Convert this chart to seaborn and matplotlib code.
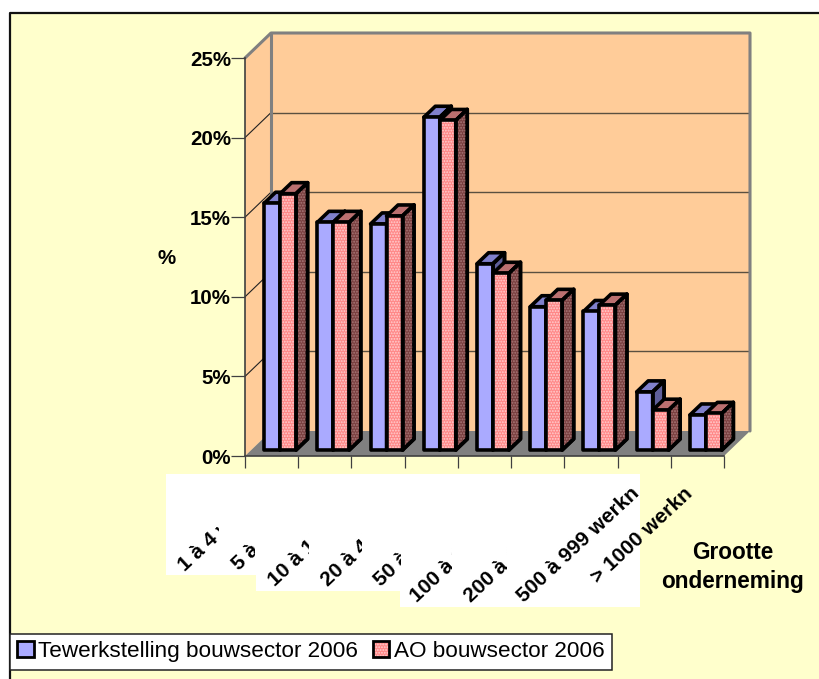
import matplotlib
matplotlib.use("Agg")
import matplotlib.pyplot as plt
import numpy as np
import pandas as pd
import seaborn as sns
from matplotlib.legend_handler import HandlerTuple
from matplotlib.patches import Polygon, Rectangle, Patch
from matplotlib.transforms import Affine2D, IdentityTransform, Bbox

categories = ["1 à 4 werkn", "5 à 9 werkn", "10 à 19 werkn", "20 à 49 werkn", "50 à 99 werkn",
              "100 à 199 werkn", "200 à 499 werkn", "500 à 999 werkn", "> 1000 werkn"]
tewerkstelling = [15.5, 14.3, 14.2, 20.9, 11.7, 9.0, 8.7, 3.65, 2.2]
ao = [16.1, 14.3, 14.7, 20.7, 11.1, 9.4, 9.1, 2.5, 2.3]
series_names = ["Tewerkstelling bouwsector 2006", "AO bouwsector 2006"]
y_ticks = [0, 5, 10, 15, 20, 25]
y_ticklabels = ["0%", "5%", "10%", "15%", "20%", "25%"]

W, H = 820, 679
BG = "#FFFFCC"
WALL = "#FFCC99"
BLUE, BLUE_TOP, BLUE_SIDE = "#AAAAFF", "#8080CC", "#5F5F99"
RED, RED_TOP, RED_SIDE = "#FF8888", "#BB7070", "#7A4040"
FONT = "Liberation Sans"

sns.set_theme(style="white")
plt.rcParams["font.family"] = FONT
plt.rcParams["hatch.linewidth"] = 0.9

df = pd.DataFrame({
    "cat": categories * 2,
    "val": tewerkstelling + ao,
    "serie": [series_names[0]] * len(categories) + [series_names[1]] * len(categories),
})

fig = plt.figure(figsize=(W / 100, H / 100), dpi=100, facecolor="white")
L, R, T, B = 245, 724, 58, 456
ax = fig.add_axes([L / W, 1 - B / H, (R - L) / W, (B - T) / H])
ax.patch.set_visible(False)

sns.barplot(data=df, x="cat", y="val", hue="serie", order=categories, hue_order=series_names,
            palette=[BLUE, RED], width=0.6, gap=0, saturation=1, legend=False, ax=ax, errorbar=None)
ax.set_xlim(-0.5, 8.5)
ax.set_ylim(0, 25)

ident = IdentityTransform()


def P(pts):
    return [(x, H - y) for x, y in pts]


def add_poly(pts, **kw):
    p = Polygon(pts, closed=True, transform=ident, clip_on=False, **kw)
    ax.add_patch(p)
    return p


# chart area frame
fig.add_artist(Rectangle((10 / W, 0), (W - 10) / W, 1 - 13 / H, transform=fig.transFigure,
                         facecolor=BG, edgecolor="none", zorder=-10))
fig.add_artist(plt.Line2D([10 / W, 10 / W, 1], [0, 1 - 13 / H, 1 - 13 / H], transform=fig.transFigure,
                          color="#111111", lw=1.6, zorder=-9))

# white label backgrounds
for x0, x1, y1 in [(166, 256, 575), (256, 400, 591), (400, 640, 607)]:
    fig.add_artist(Rectangle((x0 / W, 1 - y1 / H), (x1 - x0) / W, (y1 - 474) / H, transform=fig.transFigure,
                             facecolor="white", edgecolor="none", zorder=-8))

# 3-D box: side wall, back wall, floor
DX, DY = 26, 25
add_poly(P([(L, B), (L, T), (L + DX, T - DY), (L + DX, B - DY)]), facecolor=WALL, edgecolor="none", zorder=0.1)
add_poly(P([(L + DX, B - DY), (L + DX, T - DY), (R + DX, T - DY), (R + DX, B - DY)]),
         facecolor=WALL, edgecolor="none", zorder=0.1)
add_poly(P([(L, B), (R, B), (R + DX, B - DY), (L + DX, B - DY)]), facecolor="#808080", edgecolor="none", zorder=0.3)
back = ax.transData + Affine2D().translate(DX, DY)
ax.hlines(y_ticks[1:-1], -0.5, 8.5, transform=back, colors="#5A5040", lw=1.0, zorder=0.2, clip_on=False)
for v in y_ticks[1:-1]:
    x0, y0 = ax.transData.transform((-0.5, v))
    ax.plot([x0, x0 + DX], [y0, y0 + DY], transform=ident, color="#222222", lw=0.8, zorder=0.2, clip_on=False)
ax.plot(*zip(*P([(L, T), (L + DX, T - DY), (R + DX, T - DY), (R + DX, B - DY)])), transform=ident,
        color="#808080", lw=2.2, zorder=0.25, clip_on=False)
ax.plot(*zip(*P([(L + DX, T - DY), (L + DX, B - DY)])), transform=ident,
        color="#808080", lw=2.2, zorder=0.25, clip_on=False)

# bars with extruded faces
BAR_DX, BAR_DY = 8.5, 6
D_X, D_Y = 11.5, 11
shift = ax.transData + Affine2D().translate(BAR_DX, BAR_DY)
EDGE = 2.6
for s, cont in enumerate(ax.containers):
    top_c, side_c = (BLUE_TOP, BLUE_SIDE) if s == 0 else (RED_TOP, RED_SIDE)
    for bar in cont:
        z = 2 + s
        bar.set_transform(shift)
        bar.set_clip_on(False)
        bar.set_zorder(z + 0.2)
        x0, w, h = bar.get_x(), bar.get_width(), bar.get_height()
        (xa, ya), (xb, yb) = shift.transform([(x0, 0), (x0 + w, h)])
        kw = dict(edgecolor="black", lw=EDGE, joinstyle="round", zorder=z)
        top = add_poly([(xa, yb), (xb, yb), (xb + D_X, yb + D_Y), (xa + D_X, yb + D_Y)], facecolor=top_c, **kw)
        side = add_poly([(xb, ya), (xb + D_X, ya + D_Y), (xb + D_X, yb + D_Y), (xb, yb)], facecolor=side_c, **kw)
        if s == 1:
            add_poly(side.get_xy(), facecolor="none", edgecolor="#A87878", hatch="......", lw=0, zorder=z + 0.1)
            add_poly([(xa, ya), (xb, ya), (xb, yb), (xa, yb)], facecolor="none", edgecolor="#FFD0D0",
                     hatch="......", lw=0, zorder=z + 0.3)
        add_poly([(xa, ya), (xb, ya), (xb, yb), (xa, yb)], facecolor="none", edgecolor="black", lw=EDGE,
                 joinstyle="round", zorder=z + 0.4)
        add_poly(side.get_xy(), facecolor="none", edgecolor="black", lw=EDGE, joinstyle="round", zorder=z + 0.4)

# axes
for sp in ["top", "right"]:
    ax.spines[sp].set_visible(False)
for sp in ["left", "bottom"]:
    ax.spines[sp].set_visible(True)
    ax.spines[sp].set_color("#404040")
    ax.spines[sp].set_linewidth(1.2)
    ax.spines[sp].set_zorder(1)
ax.set_yticks(y_ticks, y_ticklabels, fontsize=14.8, fontweight="bold", color="black")
ax.tick_params(axis="y", length=10, width=0.9, color="#404040", pad=0, left=True)
ax.set_xticks(np.arange(len(categories)), categories, fontsize=15.0, fontweight="bold", color="black",
              rotation=43, ha="right", va="top", rotation_mode="anchor")
ax.set_xticks(np.arange(-0.5, 9), minor=True)
ax.tick_params(axis="x", which="major", length=0, pad=20)
ax.tick_params(axis="x", which="minor", length=8.6, width=0.9, color="#404040", bottom=True)
ax.set_xlabel("")
ax.set_ylabel("")

clip_right = [219, 255, 309, 362, 401, 452, 507, None, None]
for lab, xr in zip(ax.get_xticklabels(), clip_right):
    lab.set_transform(lab.get_transform() + Affine2D().translate(-14, 0))
    if xr is not None:
        lab.set_clip_on(True)
        lab.set_clip_box(Bbox([[0, 0], [xr, H]]))

fig.text(167 / W, 1 - 259 / H, "%", fontsize=14.8, fontweight="bold", ha="center", va="center", color="black")
fig.text(733 / W, 1 - 567 / H, "Grootte\nonderneming", fontsize=16.3, fontweight="bold", ha="center",
         va="center", color="black", linespacing=1.3)

# legend
handles = [Patch(facecolor=BLUE, edgecolor="black", lw=2.0),
           (Patch(facecolor=RED, edgecolor="#FFD0D0", lw=0, hatch="......"),
            Patch(facecolor="none", edgecolor="black", lw=2.0))]
leg = fig.legend(handles=handles, labels=series_names, ncol=2, loc="lower left",
                 bbox_to_anchor=(10 / W, 1 - 669.5 / H),
                 handler_map={tuple: HandlerTuple(ndivide=1, pad=0)},
                 borderaxespad=0, fontsize=16.2, frameon=True, fancybox=False, framealpha=1,
                 facecolor="white", edgecolor="#222222", handlelength=0.72, handleheight=0.72,
                 handletextpad=0.2, columnspacing=0.66, borderpad=0.33, labelcolor="black")
leg.get_frame().set_linewidth(1.1)

fig.savefig("out.png", dpi=100, facecolor="white")
